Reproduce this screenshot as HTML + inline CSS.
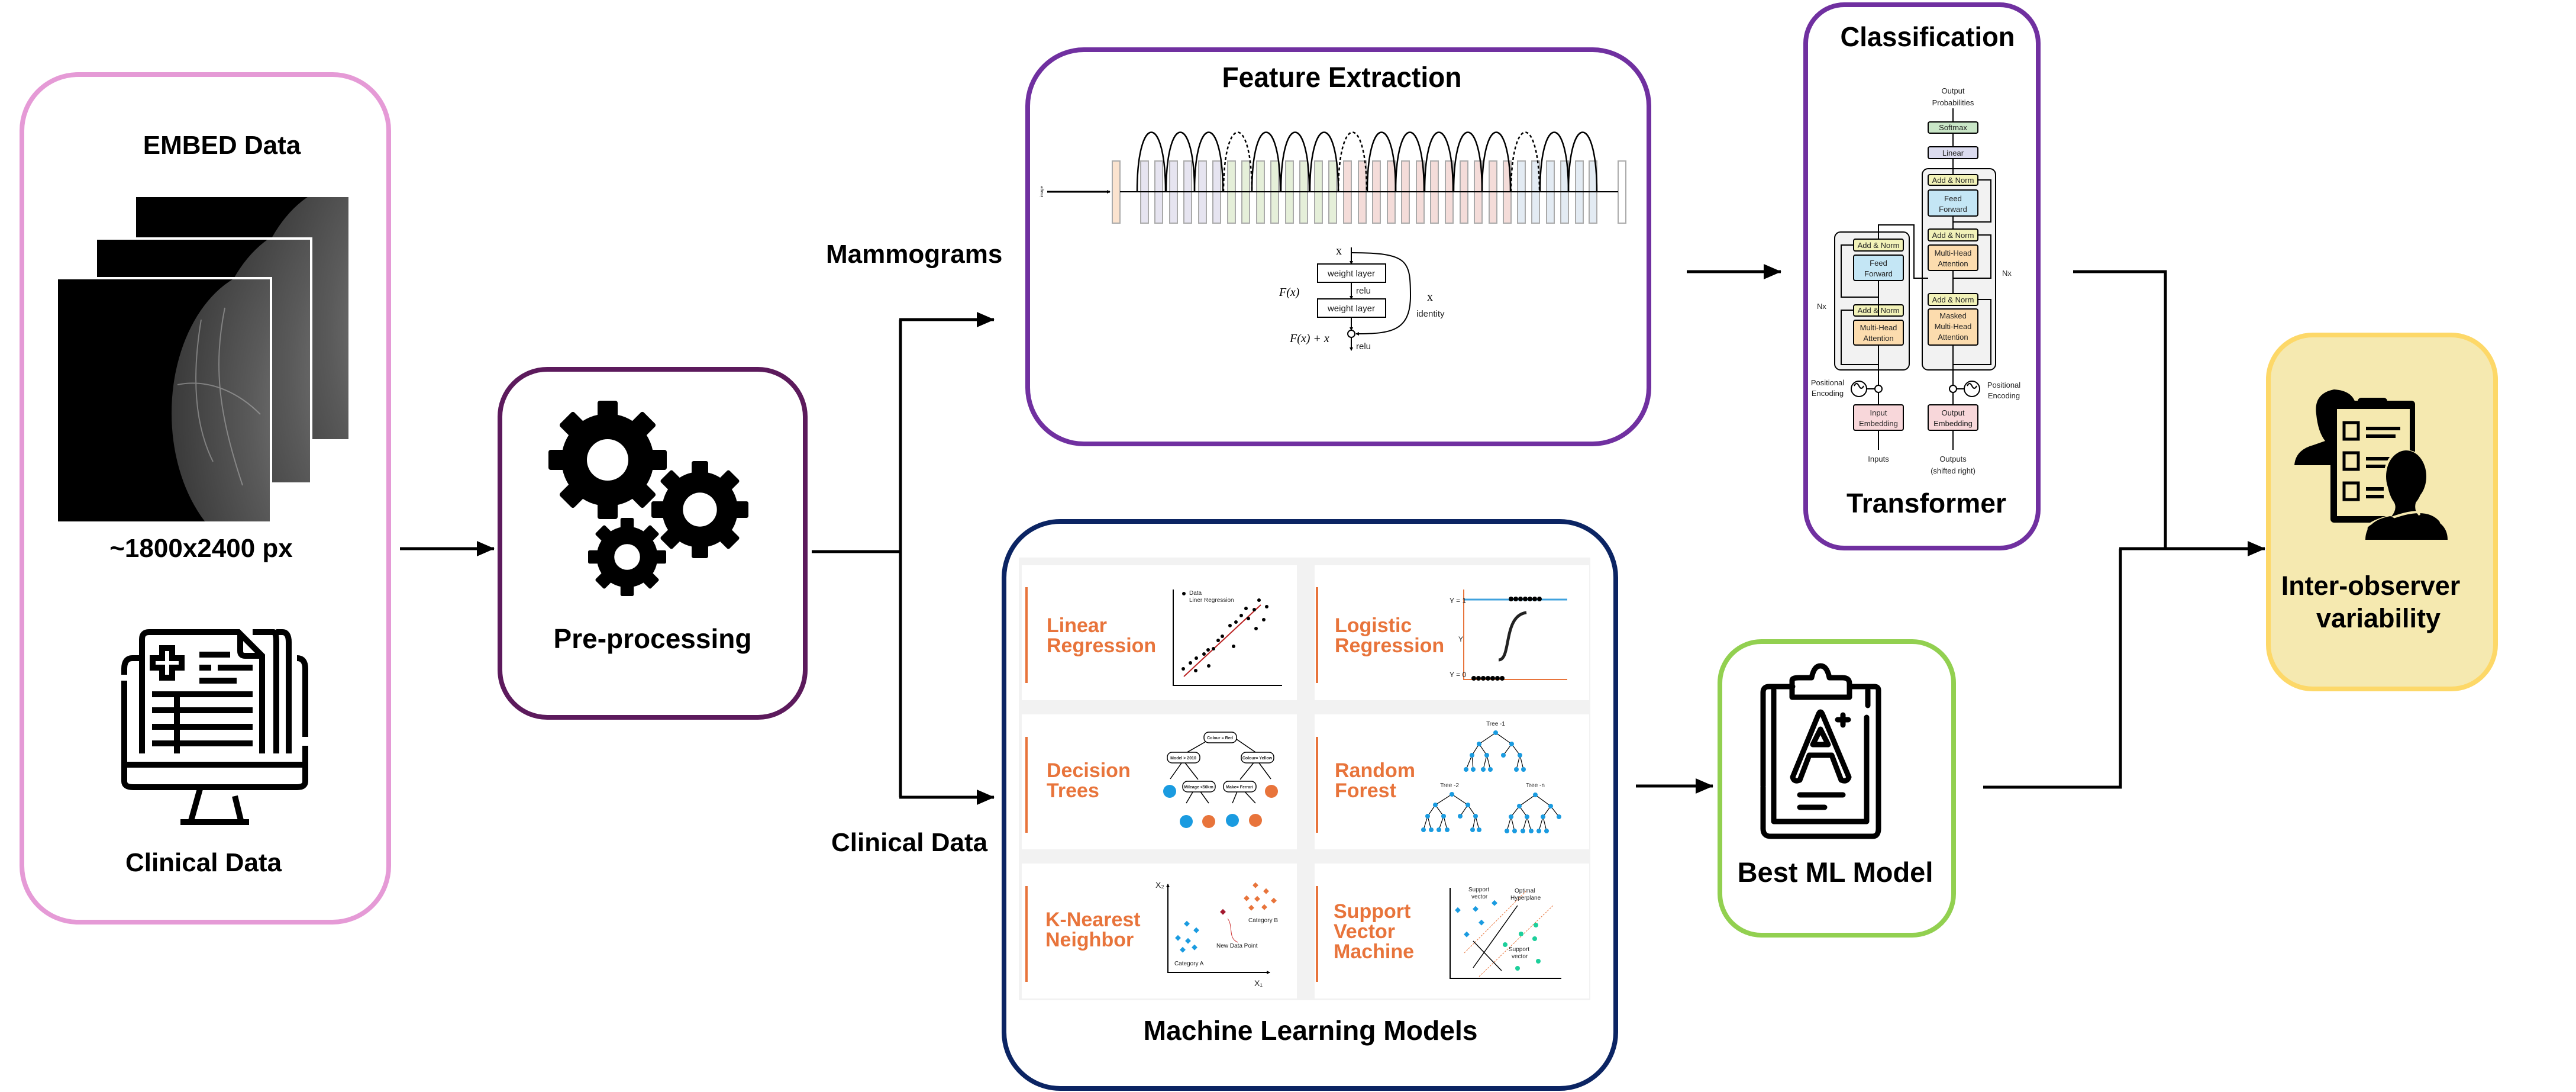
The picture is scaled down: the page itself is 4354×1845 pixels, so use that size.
<!DOCTYPE html>
<html><head><meta charset="utf-8"><style>
html,body{margin:0;padding:0;background:#fff;}
svg{display:block;}
.b{font-family:"Liberation Sans",Arial,sans-serif;font-weight:bold;fill:#000;}
.n{font-family:"Liberation Sans Narrow","Liberation Sans",Arial,sans-serif;font-weight:bold;fill:#000;}
.t{font-family:"Liberation Sans",Arial,sans-serif;fill:#222;}
.o{font-family:"Liberation Sans Narrow","Liberation Sans",Arial,sans-serif;font-weight:bold;fill:#e8743b;}
</style></head><body>
<svg width="4354" height="1845" viewBox="0 0 4354 1845" xmlns="http://www.w3.org/2000/svg">
<defs>
<marker id="ah" markerWidth="30" markerHeight="26" refX="29" refY="13" orient="auto" markerUnits="userSpaceOnUse" viewBox="0 0 30 26">
<path d="M0,0 L30,13 L0,26 z" fill="#000"/></marker>
<marker id="sa" markerWidth="6" markerHeight="6" refX="5" refY="3" orient="auto" markerUnits="userSpaceOnUse" viewBox="0 0 6 6">
<path d="M0,0 L6,3 L0,6 z" fill="#000"/></marker>
<radialGradient id="br" cx="1" cy="0.5" r="1">
<stop offset="0" stop-color="#999"/><stop offset="0.6" stop-color="#5a5a5a"/><stop offset="1" stop-color="#3a3a3a"/></radialGradient>
<clipPath id="c1"><rect x="228" y="331" width="363" height="413"/></clipPath>
<clipPath id="c2"><rect x="162" y="403" width="364" height="414"/></clipPath>
<clipPath id="c3"><rect x="96" y="470" width="362" height="413"/></clipPath>
</defs>

<!-- ===== Left EMBED box ===== -->
<rect x="37" y="126" width="620" height="1432" rx="95" fill="#fff" stroke="#e59ad6" stroke-width="8"/>
<text x="375" y="260" class="b" font-size="44" text-anchor="middle">EMBED Data</text>
<g clip-path="url(#c1)"><rect x="228" y="331" width="363" height="413" fill="#000"/>
<ellipse cx="591" cy="560" rx="170" ry="250" fill="url(#br)"/></g>
<rect x="228" y="331" width="363" height="413" fill="none" stroke="#fff" stroke-width="4"/>
<g clip-path="url(#c2)"><rect x="162" y="403" width="364" height="414" fill="#000"/>
<ellipse cx="526" cy="630" rx="170" ry="250" fill="url(#br)"/></g>
<rect x="162" y="403" width="364" height="414" fill="none" stroke="#fff" stroke-width="4"/>
<g clip-path="url(#c3)"><rect x="96" y="470" width="362" height="413" fill="#000"/>
<ellipse cx="458" cy="698" rx="168" ry="245" fill="url(#br)"/>
<path d="M340,540 C330,600 320,700 360,780 M380,520 C360,620 370,700 410,820 M300,650 C350,640 400,660 440,700" stroke="#bbb" stroke-width="2" fill="none" opacity="0.5"/></g>
<rect x="96" y="470" width="362" height="413" fill="none" stroke="#fff" stroke-width="4"/>
<text x="340" y="941" class="b" font-size="44" text-anchor="middle">~1800x2400 px</text>
<g fill="none" stroke="#000" stroke-width="10">
<path d="M240,1273 V1080 Q240,1068 252,1068 H403 L443,1108 V1273"/>
<path d="M406,1070 V1100 Q406,1108 414,1108 H443"/>
<path d="M427,1068 H462 Q467,1068 467,1085 V1273"/>
<path d="M467,1068 H477 Q488,1068 488,1085 V1273"/>
<path d="M239,1112 H224 Q210,1112 210,1130 V1140 M210,1150 V1320 Q210,1330 225,1330 H502 Q516,1330 516,1320 V1260 M516,1245 V1130 Q516,1112 502,1112"/>
<path d="M210,1292 H516"/>
<path d="M338,1333 L322,1390 M397,1345 L408,1390 M305,1389 H421"/>
<path d="M274,1095 H291 V1112 H307 V1128 H291 V1145 H274 V1128 H258 V1112 H274 Z" stroke-width="10"/>
<path d="M337,1106 H389 M337,1128 H357 M368,1128 H427 M337,1150 H400"/>
<path d="M257,1173 H427 M257,1200 H427 M257,1228 H427 M257,1256 H427 M299,1173 V1273"/>
</g>
<text x="344" y="1472" class="b" font-size="44" text-anchor="middle">Clinical Data</text>

<line x1="676" y1="927" x2="835" y2="927" stroke="#000" stroke-width="5" marker-end="url(#ah)"/>

<!-- ===== Pre-processing ===== -->
<rect x="845" y="624" width="516" height="588" rx="80" fill="#fff" stroke="#5c1a5c" stroke-width="8"/>
<g fill="#000">
<g transform="translate(1027,777)">
<g id="t8"><rect x="-17" y="-100" width="34" height="40" rx="4"/><rect x="-17" y="60" width="34" height="40" rx="4"/><rect x="-100" y="-17" width="40" height="34" rx="4"/><rect x="60" y="-17" width="40" height="34" rx="4"/>
<g transform="rotate(45)"><rect x="-17" y="-100" width="34" height="40" rx="4"/><rect x="-17" y="60" width="34" height="40" rx="4"/><rect x="-100" y="-17" width="40" height="34" rx="4"/><rect x="60" y="-17" width="40" height="34" rx="4"/></g></g>
<circle r="78"/><circle r="35" fill="#fff"/></g>
<g transform="translate(1183,861) scale(0.82)"><use href="#t8"/><circle r="78"/><circle r="35" fill="#fff"/></g>
<g transform="translate(1060,941) scale(0.66)"><use href="#t8"/><circle r="78"/><circle r="33" fill="#fff"/></g>
</g>
<text x="1103" y="1095" class="b" font-size="46" text-anchor="middle">Pre-processing</text>

<path d="M1372,932 H1522 M1522,540 V1347" stroke="#000" stroke-width="5" fill="none"/>
<line x1="1520" y1="540" x2="1680" y2="540" stroke="#000" stroke-width="5" marker-end="url(#ah)"/>
<line x1="1520" y1="1347" x2="1680" y2="1347" stroke="#000" stroke-width="5" marker-end="url(#ah)"/>
<text x="1396" y="444" class="b" font-size="44">Mammograms</text>
<text x="1405" y="1438" class="b" font-size="44">Clinical Data</text>

<!-- ===== Feature Extraction ===== -->
<rect x="1737" y="84" width="1050" height="666" rx="95" fill="#fff" stroke="#7030a0" stroke-width="8"/>
<text x="2268" y="147" class="n" font-size="48" text-anchor="middle" textLength="405" lengthAdjust="spacingAndGlyphs">Feature Extraction</text>
<line x1="1770" y1="324" x2="1876" y2="324" stroke="#000" stroke-width="3" marker-end="url(#sa)"/>
<text x="1763" y="324" class="t" font-size="7" transform="rotate(-90 1763 324)" text-anchor="middle" fill="#446">image</text>
<g stroke="#aaa" stroke-width="2">
<rect x="1880" y="272" width="13" height="105" fill="#fbe3cf"/>
<rect x="1928" y="272" width="13" height="105" fill="#e6e4f0"/><rect x="1952" y="272" width="13" height="105" fill="#e6e4f0"/><rect x="1977" y="272" width="13" height="105" fill="#e6e4f0"/><rect x="2001" y="272" width="13" height="105" fill="#e6e4f0"/><rect x="2026" y="272" width="13" height="105" fill="#e6e4f0"/><rect x="2050" y="272" width="13" height="105" fill="#e6e4f0"/>
<rect x="2075" y="272" width="13" height="105" fill="#e5efd9"/><rect x="2099" y="272" width="13" height="105" fill="#e5efd9"/><rect x="2124" y="272" width="13" height="105" fill="#e5efd9"/><rect x="2148" y="272" width="13" height="105" fill="#e5efd9"/><rect x="2173" y="272" width="13" height="105" fill="#e5efd9"/><rect x="2197" y="272" width="13" height="105" fill="#e5efd9"/><rect x="2222" y="272" width="13" height="105" fill="#e5efd9"/><rect x="2246" y="272" width="13" height="105" fill="#e5efd9"/>
<rect x="2271" y="272" width="13" height="105" fill="#f4dcd9"/><rect x="2296" y="272" width="13" height="105" fill="#f4dcd9"/><rect x="2320" y="272" width="13" height="105" fill="#f4dcd9"/><rect x="2345" y="272" width="13" height="105" fill="#f4dcd9"/><rect x="2369" y="272" width="13" height="105" fill="#f4dcd9"/><rect x="2394" y="272" width="13" height="105" fill="#f4dcd9"/><rect x="2418" y="272" width="13" height="105" fill="#f4dcd9"/><rect x="2443" y="272" width="13" height="105" fill="#f4dcd9"/><rect x="2468" y="272" width="13" height="105" fill="#f4dcd9"/><rect x="2492" y="272" width="13" height="105" fill="#f4dcd9"/><rect x="2517" y="272" width="13" height="105" fill="#f4dcd9"/><rect x="2541" y="272" width="13" height="105" fill="#f4dcd9"/>
<rect x="2565" y="272" width="13" height="105" fill="#e3ebf3"/><rect x="2589" y="272" width="13" height="105" fill="#e3ebf3"/><rect x="2614" y="272" width="13" height="105" fill="#e3ebf3"/><rect x="2638" y="272" width="13" height="105" fill="#e3ebf3"/><rect x="2663" y="272" width="13" height="105" fill="#e3ebf3"/><rect x="2686" y="272" width="13" height="105" fill="#e3ebf3"/>
<rect x="2735" y="272" width="13" height="105" fill="#fff"/>
</g>
<line x1="1893" y1="324" x2="2735" y2="324" stroke="#000" stroke-width="2"/>
<g fill="none" stroke="#000" stroke-width="2.5">
<path d="M1922,324 C1922,190 1970,190 1970,324"/><path d="M1971,324 C1971,190 2019,190 2019,324"/><path d="M2019,324 C2019,190 2067,190 2067,324"/>
<path d="M2068,324 C2068,190 2116,190 2116,324" stroke-dasharray="5,4"/>
<path d="M2116,324 C2116,190 2164,190 2164,324"/><path d="M2165,324 C2165,190 2213,190 2213,324"/><path d="M2214,324 C2214,190 2262,190 2262,324"/>
<path d="M2262,324 C2262,190 2310,190 2310,324" stroke-dasharray="5,4"/>
<path d="M2311,324 C2311,190 2359,190 2359,324"/><path d="M2359,324 C2359,190 2407,190 2407,324"/><path d="M2408,324 C2408,190 2456,190 2456,324"/><path d="M2457,324 C2457,190 2505,190 2505,324"/><path d="M2505,324 C2505,190 2553,190 2553,324"/>
<path d="M2554,324 C2554,190 2602,190 2602,324" stroke-dasharray="5,4"/>
<path d="M2603,324 C2603,190 2651,190 2651,324"/><path d="M2651,324 C2651,190 2699,190 2699,324"/>
</g>
<g fill="none" stroke="#000" stroke-width="2">
<line x1="2284" y1="418" x2="2284" y2="446" marker-end="url(#sa)"/>
<rect x="2227" y="446" width="115" height="31" fill="#fff"/>
<line x1="2284" y1="477" x2="2284" y2="505" marker-end="url(#sa)"/>
<rect x="2227" y="505" width="115" height="31" fill="#fff"/>
<line x1="2284" y1="536" x2="2284" y2="558" marker-end="url(#sa)"/>
<circle cx="2284" cy="564" r="6"/>
<line x1="2284" y1="570" x2="2284" y2="592" marker-end="url(#sa)"/>
<path d="M2284,427 C2380,427 2384,440 2384,500 C2384,560 2350,564 2292,564" marker-end="url(#sa)"/>
</g>
<text x="2284" y="467" class="t" font-size="15" text-anchor="middle" fill="#000">weight layer</text>
<text x="2284" y="526" class="t" font-size="15" text-anchor="middle" fill="#000">weight layer</text>
<text x="2292" y="496" class="t" font-size="15" fill="#000">relu</text>
<text x="2292" y="590" class="t" font-size="15" fill="#000">relu</text>
<text x="2258" y="430" font-family="Liberation Serif,serif" font-size="20">x</text>
<text x="2162" y="500" font-family="Liberation Serif,serif" font-style="italic" font-size="20">F(x)</text>
<text x="2180" y="578" font-family="Liberation Serif,serif" font-style="italic" font-size="20">F(x) + x</text>
<text x="2412" y="508" font-family="Liberation Serif,serif" font-size="20">x</text>
<text x="2394" y="535" class="t" font-size="15" fill="#000">identity</text>

<line x1="2851" y1="459" x2="3010" y2="459" stroke="#000" stroke-width="5" marker-end="url(#ah)"/>

<!-- ===== Classification ===== -->
<rect x="3052" y="8" width="393" height="918" rx="65" fill="#fff" stroke="#7030a0" stroke-width="8"/>
<text x="3258" y="78" class="n" font-size="46" text-anchor="middle" textLength="295" lengthAdjust="spacingAndGlyphs">Classification</text>
<text x="3256" y="866" class="n" font-size="46" text-anchor="middle" textLength="270" lengthAdjust="spacingAndGlyphs">Transformer</text>
<g stroke="#000" stroke-width="2">
<rect x="3249" y="285" width="124" height="340" rx="10" fill="#f2f2f2"/>
<rect x="3101" y="392" width="126" height="233" rx="10" fill="#f2f2f2"/>
<rect x="3259" y="206" width="84" height="19" rx="3" fill="#c9e6c7"/>
<rect x="3259" y="248" width="84" height="20" rx="3" fill="#dcdcef"/>
<rect x="3259" y="295" width="84" height="18" rx="3" fill="#f2f2b8"/>
<rect x="3259" y="321" width="84" height="44" rx="3" fill="#c4e6f5"/>
<rect x="3259" y="387" width="84" height="20" rx="3" fill="#f2f2b8"/>
<rect x="3259" y="414" width="84" height="43" rx="3" fill="#fcdcae"/>
<rect x="3259" y="496" width="84" height="20" rx="3" fill="#f2f2b8"/>
<rect x="3259" y="522" width="84" height="61" rx="3" fill="#fcdcae"/>
<rect x="3133" y="404" width="84" height="20" rx="3" fill="#f2f2b8"/>
<rect x="3133" y="431" width="84" height="43" rx="3" fill="#c4e6f5"/>
<rect x="3133" y="515" width="84" height="19" rx="3" fill="#f2f2b8"/>
<rect x="3133" y="541" width="84" height="42" rx="3" fill="#fcdcae"/>
<rect x="3133" y="684" width="84" height="43" rx="3" fill="#f8d7da"/>
<rect x="3259" y="684" width="84" height="43" rx="3" fill="#f8d7da"/>
<circle cx="3175" cy="657" r="6" fill="#fff"/><circle cx="3301" cy="657" r="6" fill="#fff"/>
<circle cx="3142" cy="657" r="13" fill="#fff"/><circle cx="3333" cy="657" r="13" fill="#fff"/>
</g>
<g stroke="#000" stroke-width="2" fill="none">
<path d="M3175,760 V727 M3175,684 V663 M3175,651 V583 M3175,474 V534 M3175,404 V380 H3235 V470 H3259"/>
<path d="M3301,760 V727 M3301,684 V663 M3301,651 V583 M3301,496 V457 M3301,387 V365 M3301,295 V268 M3301,248 V225 M3301,206 V183"/>
<path d="M3155,657 H3169 M3307,657 H3320"/>
<path d="M3175,616 H3112 V524 H3133 M3175,502 H3112 V414 H3133"/>
<path d="M3301,616 H3365 V506 H3343 M3301,470 H3365 V397 H3343 M3301,375 H3365 V304 H3343"/>
<path d="M3134,652 q4,-8 8,0 t8,0 M3325,652 q4,-8 8,0 t8,0"/>
</g>
<g class="t" font-size="13" text-anchor="middle" fill="#222">
<text x="3301" y="158">Output</text><text x="3301" y="178">Probabilities</text>
<text x="3301" y="220">Softmax</text><text x="3301" y="263">Linear</text>
<text x="3301" y="309">Add &amp; Norm</text><text x="3301" y="340">Feed</text><text x="3301" y="358">Forward</text>
<text x="3301" y="402">Add &amp; Norm</text><text x="3301" y="432">Multi-Head</text><text x="3301" y="450">Attention</text>
<text x="3301" y="511">Add &amp; Norm</text><text x="3301" y="538">Masked</text><text x="3301" y="556">Multi-Head</text><text x="3301" y="574">Attention</text>
<text x="3175" y="419">Add &amp; Norm</text><text x="3175" y="449">Feed</text><text x="3175" y="467">Forward</text>
<text x="3175" y="529">Add &amp; Norm</text><text x="3175" y="558">Multi-Head</text><text x="3175" y="576">Attention</text>
<text x="3175" y="702">Input</text><text x="3175" y="720">Embedding</text>
<text x="3301" y="702">Output</text><text x="3301" y="720">Embedding</text>
<text x="3175" y="780">Inputs</text><text x="3301" y="780">Outputs</text><text x="3301" y="800">(shifted right)</text>
<text x="3089" y="651">Positional</text><text x="3089" y="669">Encoding</text>
<text x="3387" y="655">Positional</text><text x="3387" y="673">Encoding</text>
<text x="3079" y="522">Nx</text><text x="3392" y="466">Nx</text>
</g>

<path d="M3504,459 H3660 V927" stroke="#000" stroke-width="5" fill="none"/>
<path d="M3352,1330 H3584 V927" stroke="#000" stroke-width="5" fill="none"/>
<line x1="3582" y1="927" x2="3828" y2="927" stroke="#000" stroke-width="5" marker-end="url(#ah)"/>

<!-- ===== Inter-observer ===== -->
<rect x="3834" y="566" width="384" height="598" rx="75" fill="#f5e9b0" stroke="#fdd868" stroke-width="8"/>
<g fill="#000">
<path d="M3878,786 Q3880,760 3910,752 L3930,745 Q3918,730 3915,700 Q3910,665 3945,658 Q3978,660 3982,685 L3982,786 Z"/>
<rect x="3939" y="677" width="143" height="206" rx="6"/>
<rect x="3950" y="691" width="123" height="181" fill="#f5e9b0"/>
<rect x="3985" y="672" width="50" height="16" rx="6"/>
<rect x="3962" y="714" width="24" height="28" fill="none" stroke="#000" stroke-width="5"/>
<rect x="3962" y="765" width="24" height="28" fill="none" stroke="#000" stroke-width="5"/>
<rect x="3962" y="816" width="24" height="28" fill="none" stroke="#000" stroke-width="5"/>
<rect x="3999" y="721" width="58" height="6"/><rect x="3999" y="734" width="50" height="6"/>
<rect x="3999" y="772" width="40" height="6"/><rect x="3999" y="785" width="35" height="6"/>
<rect x="3999" y="823" width="30" height="6"/><rect x="3999" y="836" width="30" height="6"/>
<path d="M4030,880 Q4100,850 4125,880 L4137,912 H3998 L4000,890 Q4010,880 4040,872 Q4050,860 4045,850 Q4030,830 4033,790 Q4040,762 4067,762 Q4100,765 4100,800 Q4098,835 4085,850 Q4082,862 4090,870" stroke="#f5e9b0" stroke-width="4"/>
<ellipse cx="4067" cy="805" rx="34" ry="44"/>
<path d="M3998,912 Q3998,880 4040,872 L4067,885 L4095,872 Q4137,880 4137,912 Z"/>
</g>
<text x="4007" y="1005" class="b" font-size="45" text-anchor="middle">Inter-observer</text>
<text x="4020" y="1060" class="b" font-size="45" text-anchor="middle">variability</text>

<!-- ===== ML box ===== -->
<rect x="1697" y="881" width="1034" height="958" rx="95" fill="#fff" stroke="#0b2463" stroke-width="8"/>
<rect x="1722" y="942" width="966" height="748" fill="#f2f2f2"/>
<rect x="1727" y="955" width="465" height="228" fill="#fff"/><rect x="2222" y="955" width="464" height="228" fill="#fff"/>
<rect x="1727" y="1207" width="465" height="228" fill="#fff"/><rect x="2222" y="1207" width="464" height="228" fill="#fff"/>
<rect x="1727" y="1459" width="465" height="228" fill="#fff"/><rect x="2222" y="1459" width="464" height="228" fill="#fff"/>
<g fill="#e8743b">
<rect x="1733" y="992" width="4" height="162"/><rect x="2224" y="992" width="4" height="162"/>
<rect x="1733" y="1245" width="4" height="162"/><rect x="2224" y="1245" width="4" height="162"/>
<rect x="1733" y="1497" width="4" height="162"/><rect x="2224" y="1497" width="4" height="162"/>
</g>
<g class="o" font-size="34">
<text x="1769" y="1068">Linear</text><text x="1769" y="1102">Regression</text>
<text x="2256" y="1068">Logistic</text><text x="2256" y="1102">Regression</text>
<text x="1769" y="1313">Decision</text><text x="1769" y="1347">Trees</text>
<text x="2256" y="1313">Random</text><text x="2256" y="1347">Forest</text>
<text x="1767" y="1565">K-Nearest</text><text x="1767" y="1599">Neighbor</text>
<text x="2254" y="1551">Support</text><text x="2254" y="1585">Vector</text><text x="2254" y="1619">Machine</text>
</g>
<path d="M1983,996 V1158 H2167" stroke="#000" stroke-width="2" fill="none"/>
<line x1="2001" y1="1143" x2="2131" y2="1022" stroke="#b22" stroke-width="2"/>
<g fill="#000"><circle cx="2000" cy="1130" r="3"/><circle cx="2012" cy="1120" r="3"/><circle cx="2021" cy="1133" r="3"/><circle cx="2022" cy="1112" r="3"/><circle cx="2035" cy="1105" r="3"/><circle cx="2043" cy="1125" r="3"/><circle cx="2051" cy="1096" r="3"/><circle cx="2059" cy="1082" r="3"/><circle cx="2066" cy="1075" r="3"/><circle cx="2079" cy="1057" r="3"/><circle cx="2089" cy="1051" r="3"/><circle cx="2098" cy="1040" r="3"/><circle cx="2106" cy="1028" r="3"/><circle cx="2110" cy="1045" r="3"/><circle cx="2120" cy="1030" r="3"/><circle cx="2128" cy="1014" r="3"/><circle cx="2141" cy="1025" r="3"/><circle cx="2136" cy="1047" r="3"/><circle cx="2085" cy="1092" r="3"/><circle cx="2123" cy="1062" r="3"/><circle cx="2042" cy="1098" r="3"/><circle cx="2001" cy="1003" r="3"/></g>
<text x="2010" y="1005" class="t" font-size="10">Data</text><text x="2010" y="1017" class="t" font-size="10">Liner Regression</text>
<path d="M2474,996 V1148 H2649" stroke="#e8743b" stroke-width="2" fill="none"/>
<line x1="2474" y1="1013" x2="2649" y2="1013" stroke="#3fa2de" stroke-width="3"/>
<g fill="#000"><circle cx="2554" cy="1012" r="4"/><circle cx="2562" cy="1012" r="4"/><circle cx="2570" cy="1012" r="4"/><circle cx="2578" cy="1012" r="4"/><circle cx="2586" cy="1012" r="4"/><circle cx="2594" cy="1012" r="4"/><circle cx="2602" cy="1012" r="4"/>
<circle cx="2491" cy="1146" r="4"/><circle cx="2499" cy="1146" r="4"/><circle cx="2507" cy="1146" r="4"/><circle cx="2515" cy="1146" r="4"/><circle cx="2523" cy="1146" r="4"/><circle cx="2531" cy="1146" r="4"/><circle cx="2539" cy="1146" r="4"/></g>
<path d="M2533,1115 C2555,1115 2540,1040 2580,1035" stroke="#222" stroke-width="5" fill="none"/>
<text x="2450" y="1019" class="t" font-size="12">Y = 1</text><text x="2465" y="1084" class="t" font-size="12">Y</text><text x="2450" y="1144" class="t" font-size="12">Y = 0</text>
<g stroke="#000" stroke-width="1.5" fill="none">
<path d="M2045,1249 L2003,1273 M2090,1249 L2125,1273 M2000,1285 L1978,1316 M2000,1285 L2025,1317 M2122,1285 L2096,1317 M2125,1285 L2148,1316 M2022,1328 L2005,1357 M2022,1328 L2043,1357 M2095,1328 L2083,1357 M2095,1328 L2122,1357"/>
<rect x="2035" y="1237" width="55" height="18" rx="8" fill="#fff"/><rect x="1973" y="1271" width="55" height="18" rx="8" fill="#fff"/><rect x="2098" y="1271" width="55" height="18" rx="8" fill="#fff"/>
<rect x="1999" y="1320" width="55" height="18" rx="8" fill="#fff"/><rect x="2068" y="1320" width="55" height="18" rx="8" fill="#fff"/>
</g>
<g class="t" font-size="7" text-anchor="middle" font-weight="bold"><text x="2062" y="1249">Colour = Red</text><text x="2000" y="1283">Model &gt; 2010</text><text x="2125" y="1283">Colour= Yellow</text><text x="2026" y="1332">Mileage &lt;50km</text><text x="2095" y="1332">Make= Ferrari</text></g>
<g><circle cx="1977" cy="1337" r="11" fill="#1a9be0"/><circle cx="2149" cy="1337" r="11" fill="#e8743b"/><circle cx="2005" cy="1388" r="11" fill="#1a9be0"/><circle cx="2043" cy="1388" r="11" fill="#e8743b"/><circle cx="2083" cy="1386" r="11" fill="#1a9be0"/><circle cx="2122" cy="1386" r="11" fill="#e8743b"/></g>
<g stroke="#000" stroke-width="1.2" fill="none">
<path d="M2528,1238 L2500,1257 L2488,1276 L2478,1300 M2488,1276 L2490,1300 M2500,1257 L2513,1276 L2507,1300 M2513,1276 L2519,1300 M2528,1238 L2555,1257 L2541,1276 M2555,1257 L2569,1276 L2563,1300 M2569,1276 L2575,1300"/>
<path d="M2454,1342 L2426,1360 L2413,1379 L2406,1402 M2413,1379 L2419,1402 M2426,1360 L2440,1379 L2432,1402 M2440,1379 L2446,1402 M2454,1342 L2481,1360 L2468,1379 M2481,1360 L2494,1379 L2489,1402 M2494,1379 L2500,1402"/>
<path d="M2595,1343 L2568,1362 L2554,1380 L2547,1404 M2554,1380 L2560,1404 M2568,1362 L2581,1380 L2574,1404 M2581,1380 L2588,1404 M2595,1343 L2621,1362 L2608,1380 L2601,1404 M2608,1380 L2614,1404 M2621,1362 L2635,1380"/>
</g>
<g fill="#1a9be0">
<circle cx="2528" cy="1238" r="4"/><circle cx="2500" cy="1257" r="4"/><circle cx="2555" cy="1257" r="4"/><circle cx="2488" cy="1276" r="4"/><circle cx="2513" cy="1276" r="4"/><circle cx="2541" cy="1276" r="4"/><circle cx="2569" cy="1276" r="4"/><circle cx="2478" cy="1300" r="4"/><circle cx="2490" cy="1300" r="4"/><circle cx="2507" cy="1300" r="4"/><circle cx="2519" cy="1300" r="4"/><circle cx="2563" cy="1300" r="4"/><circle cx="2575" cy="1300" r="4"/>
<circle cx="2454" cy="1342" r="4"/><circle cx="2426" cy="1360" r="4"/><circle cx="2481" cy="1360" r="4"/><circle cx="2413" cy="1379" r="4"/><circle cx="2440" cy="1379" r="4"/><circle cx="2468" cy="1379" r="4"/><circle cx="2494" cy="1379" r="4"/><circle cx="2406" cy="1402" r="4"/><circle cx="2419" cy="1402" r="4"/><circle cx="2432" cy="1402" r="4"/><circle cx="2446" cy="1402" r="4"/><circle cx="2489" cy="1402" r="4"/><circle cx="2500" cy="1402" r="4"/>
<circle cx="2595" cy="1343" r="4"/><circle cx="2568" cy="1362" r="4"/><circle cx="2621" cy="1362" r="4"/><circle cx="2554" cy="1380" r="4"/><circle cx="2581" cy="1380" r="4"/><circle cx="2608" cy="1380" r="4"/><circle cx="2635" cy="1380" r="4"/><circle cx="2547" cy="1404" r="4"/><circle cx="2560" cy="1404" r="4"/><circle cx="2574" cy="1404" r="4"/><circle cx="2588" cy="1404" r="4"/><circle cx="2601" cy="1404" r="4"/><circle cx="2614" cy="1404" r="4"/></g>
<text x="2528" y="1226" class="t" font-size="10" text-anchor="middle">Tree -1</text><text x="2450" y="1330" class="t" font-size="10" text-anchor="middle">Tree -2</text><text x="2595" y="1330" class="t" font-size="10" text-anchor="middle">Tree -n</text>
<path d="M1974,1497 V1643 H2146" stroke="#000" stroke-width="2" fill="none" marker-end="url(#sa)"/>
<line x1="1974" y1="1643" x2="1974" y2="1494" stroke="#000" stroke-width="2" marker-end="url(#sa)"/>
<text x="1953" y="1500" class="t" font-size="14">X₂</text><text x="2120" y="1666" class="t" font-size="14">X₁</text>
<g fill="#1a9be0"><rect x="2003" y="1557" width="7" height="7" transform="rotate(45 2006 1560)"/><rect x="2019" y="1568" width="7" height="7" transform="rotate(45 2022 1571)"/><rect x="1988" y="1581" width="7" height="7" transform="rotate(45 1991 1584)"/><rect x="2005" y="1586" width="7" height="7" transform="rotate(45 2008 1589)"/><rect x="1996" y="1601" width="7" height="7" transform="rotate(45 1999 1604)"/><rect x="2016" y="1597" width="7" height="7" transform="rotate(45 2019 1600)"/></g>
<g fill="#e8743b"><rect x="2119" y="1492" width="7" height="7" transform="rotate(45 2122 1495)"/><rect x="2137" y="1502" width="7" height="7" transform="rotate(45 2140 1505)"/><rect x="2104" y="1514" width="7" height="7" transform="rotate(45 2107 1517)"/><rect x="2122" y="1515" width="7" height="7" transform="rotate(45 2125 1518)"/><rect x="2150" y="1518" width="7" height="7" transform="rotate(45 2153 1521)"/><rect x="2112" y="1530" width="7" height="7" transform="rotate(45 2115 1533)"/><rect x="2134" y="1529" width="7" height="7" transform="rotate(45 2137 1532)"/></g>
<rect x="2064" y="1537" width="7" height="7" fill="#a3182e" transform="rotate(45 2067 1540)"/>
<path d="M2075,1552 C2085,1565 2075,1585 2092,1592" stroke="#c33" stroke-width="1" fill="none"/>
<text x="2110" y="1558" class="t" font-size="10">Category B</text><text x="2056" y="1601" class="t" font-size="10">New Data Point</text><text x="1985" y="1631" class="t" font-size="10">Category A</text>
<path d="M2451,1500 V1653 H2639" stroke="#000" stroke-width="2" fill="none"/>
<path d="M2475,1610 L2580,1505 M2500,1650 L2625,1530" stroke="#e8743b" stroke-width="1" stroke-dasharray="3,2"/>
<path d="M2490,1635 L2565,1530 M2490,1590 L2538,1640" stroke="#000" stroke-width="1.5"/>
<g fill="#1a9be0"><rect x="2461" y="1534" width="7" height="7" transform="rotate(45 2464 1537)"/><rect x="2491" y="1532" width="7" height="7" transform="rotate(45 2494 1535)"/><rect x="2501" y="1555" width="7" height="7" transform="rotate(45 2504 1558)"/><rect x="2476" y="1575" width="7" height="7" transform="rotate(45 2479 1578)"/><rect x="2523" y="1522" width="7" height="7" transform="rotate(45 2526 1525)"/></g>
<g fill="#1dcf9b"><circle cx="2596" cy="1563" r="4"/><circle cx="2571" cy="1578" r="4"/><circle cx="2594" cy="1586" r="4"/><circle cx="2544" cy="1596" r="4"/><circle cx="2600" cy="1624" r="4"/><circle cx="2565" cy="1636" r="4"/></g>
<text x="2482" y="1506" class="t" font-size="10">Support</text><text x="2487" y="1518" class="t" font-size="10">vector</text>
<text x="2560" y="1508" class="t" font-size="10">Optimal</text><text x="2553" y="1520" class="t" font-size="10">Hyperplane</text>
<text x="2550" y="1607" class="t" font-size="10">Support</text><text x="2555" y="1619" class="t" font-size="10">vector</text>
<text x="2215" y="1757" class="n" font-size="46" text-anchor="middle" textLength="565" lengthAdjust="spacingAndGlyphs">Machine Learning Models</text>

<line x1="2765" y1="1328" x2="2895" y2="1328" stroke="#000" stroke-width="5" marker-end="url(#ah)"/>

<!-- ===== Best ML ===== -->
<rect x="2907" y="1084" width="395" height="496" rx="70" fill="#fff" stroke="#92d050" stroke-width="8"/>
<g fill="none" stroke="#000" stroke-width="9" stroke-linecap="round" stroke-linejoin="round">
<path d="M2980,1330 V1400 Q2980,1413 2993,1413 H3165 Q3175,1413 3175,1400 V1166 Q3175,1160 3168,1160 H3130 M3030,1160 H2990 Q2980,1160 2980,1170 V1328"/>
<path d="M3155,1212 V1388 H2998 V1166 M3157,1166 V1192"/>
<path d="M3029,1178 V1150 Q3029,1145 3040,1145 H3062 Q3066,1125 3077,1125 Q3088,1125 3092,1145 H3114 Q3126,1145 3126,1155 V1178 Z"/>
<path d="M3030,1313 L3074,1206 Q3077,1200 3080,1206 L3125,1313 Q3122,1322 3112,1318 L3096,1276 H3058 L3042,1318 Q3032,1322 3030,1313 Z M3064,1258 L3077,1232 L3090,1258 Z"/>
<path d="M3115,1208 V1225 M3106,1216 H3124"/>
<path d="M3042,1343 H3115 M3042,1364 H3084"/>
</g>
<text x="3102" y="1490" class="b" font-size="47" text-anchor="middle">Best ML Model</text>
</svg>
</body></html>
